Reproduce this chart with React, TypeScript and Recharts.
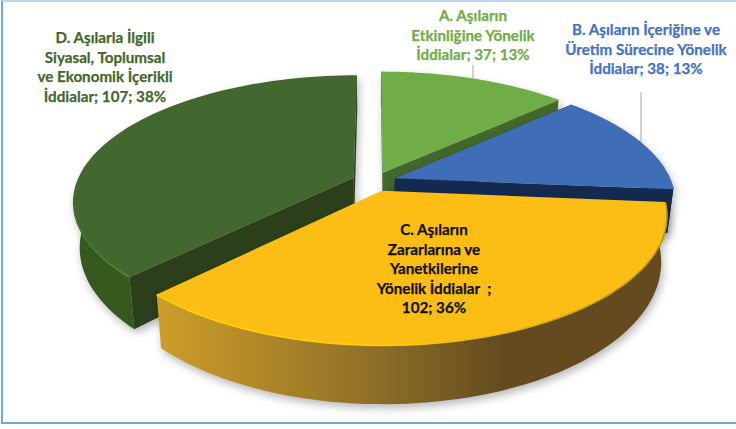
import { PieChart, Pie } from 'recharts';

// draw order is D, A, B, C so the front slice ends up on top
const categories = ['D', 'A', 'B', 'C'];
const values = [107, 37, 38, 102];
const labelLines = [
  ['D. Aşılarla İlgili', 'Siyasal, Toplumsal', 've Ekonomik İçerikli', 'İddialar; 107; 38%'],
  ['A. Aşıların', 'Etkinliğine Yönelik', 'İddialar; 37; 13%'],
  ['B. Aşıların İçeriğine ve', 'Üretim Sürecine Yönelik', 'İddialar; 38; 13%'],
  ['C. Aşıların', 'Zararlarına ve', 'Yanetkilerine', 'Yönelik İddialar  ;', '102; 36%'],
];

const chartData = categories.map((name, i) => ({ name, value: values[i] }));
const total = values.reduce((a, b) => a + b, 0);
// D ends at twelve o'clock, everything else runs clockwise from there
const startAngle = 90 + (360 * values[0]) / total;

const WIDTH = 736;
const HEIGHT = 429;
const CX = 374;
const CY = 181.5;
const RADIUS = 276;
const RADIUS_Y = 122;
const PERSPECTIVE = 0.186;
const EXPLODE = 0.08;
const DEPTH = 43;
const FOOT_SHRINK = 0.98;

// cut: the radial faces that can be seen from the front, 'none' when they face away
const sliceStyles: Record<string, any> = {
  A: { top: '#70AD47', cut: '#43682B', side: '#43682B', bevel: '#70AD47', text: '#70AD47', labelX: 473, labelY: 21, leader: [473, 65, 79] },
  B: { top: '#3F6EB6', cut: '#152A50', side: '#152A50', bevel: '#3F6EB6', text: '#4472C4', labelX: 646, labelY: 35, leader: [641, 92, 142] },
  C: { top: '#FCBE14', cut: 'none', side: 'url(#sideC)', bevel: 'url(#bevelC)', text: '#111111', labelX: 434, labelY: 235 },
  D: { top: '#43682F', cut: '#2A3F1A', side: 'url(#sideD)', bevel: 'url(#bevelD)', text: '#43682B', labelX: 105, labelY: 43 },
};

const project = (u: number, v: number) => {
  const w = 1 - PERSPECTIVE * v;
  return { x: CX + (RADIUS * u) / w, y: CY + (RADIUS_Y * v) / w, w };
};

const foot = (p: { x: number; y: number; w: number }) => ({
  x: CX + (p.x - CX) * FOOT_SHRINK,
  y: p.y + DEPTH / Math.pow(p.w, 1.4),
  w: p.w,
});

const toPath = (pts: { x: number; y: number }[], close = true) =>
  pts.map((p, i) => `${i ? 'L' : 'M'}${p.x.toFixed(1)},${p.y.toFixed(1)}`).join('') + (close ? 'Z' : '');

const rad = (deg: number) => (deg * Math.PI) / 180;

const Slice3D = (props: any) => {
  const { startAngle: a0, endAngle: a1, midAngle, name } = props;
  const style = sliceStyles[name];
  const ox = EXPLODE * Math.cos(rad(midAngle));
  const oy = -EXPLODE * Math.sin(rad(midAngle));

  const arc = [];
  for (let i = 0; i <= 72; i++) {
    const a = rad(a0 + ((a1 - a0) * i) / 72);
    arc.push(project(ox + Math.cos(a), oy - Math.sin(a)));
  }
  const apex = project(ox, oy);
  const first = arc[0];
  const last = arc[arc.length - 1];

  return (
    <g style={{ filter: 'drop-shadow(2px 4px 4px rgba(0,0,0,0.28))' }}>
      <path d={toPath([apex, first, foot(first), foot(apex)])} fill={style.cut} />
      <path d={toPath([apex, last, foot(last), foot(apex)])} fill={style.cut} />
      <path d={toPath([...arc, ...arc.map(foot).reverse()])} fill={style.side} />
      <path d={toPath([apex, ...arc])} fill={style.top} />
      <path d={toPath(arc, false)} fill="none" stroke={style.bevel} strokeWidth={1.5} />
    </g>
  );
};

const renderLabel = (props: any) => {
  const { name, index } = props;
  const style = sliceStyles[name];
  return (
    <g key={name}>
      {style.leader && (
        <line
          x1={style.leader[0]}
          x2={style.leader[0]}
          y1={style.leader[1]}
          y2={style.leader[2]}
          stroke="#A6A6A6"
          strokeWidth={1}
        />
      )}
      {labelLines[index].map((line, i) => (
        <text
          key={line}
          x={style.labelX}
          y={style.labelY + i * 19.6}
          textAnchor="middle"
          fontFamily="Lato, 'Noto Sans', sans-serif"
          fontWeight={700}
          fontSize={15.2}
          fill={style.text}
          stroke={style.text}
          strokeWidth={0.25}
          style={{ whiteSpace: 'pre' }}
        >
          {line}
        </text>
      ))}
    </g>
  );
};

export default function App() {
  return (
    <div style={{ position: 'absolute', left: 0, top: 0, width: WIDTH, height: HEIGHT, background: '#FFFFFF' }}>
      <div
        style={{
          position: 'absolute',
          left: 1,
          top: 0,
          width: WIDTH - 1,
          height: 424,
          boxSizing: 'border-box',
          borderLeft: '2px solid #6FA8DC',
          borderBottom: '2px solid #6FA8DC',
          borderTop: '2px solid #BDD7EE',
        }}
      />
      <div style={{ position: 'absolute', left: 0, top: 0 }}>
        <PieChart width={WIDTH} height={HEIGHT} margin={{ top: 0, right: 0, bottom: 0, left: 0 }}>
          <defs>
            <linearGradient id="sideC" x1="0" y1="0" x2="1" y2="0">
              <stop offset="0" stopColor="#CF9E28" />
              <stop offset="0.42" stopColor="#8F6F28" />
              <stop offset="0.68" stopColor="#634B1F" />
              <stop offset="1" stopColor="#634B1F" />
            </linearGradient>
            <linearGradient id="sideD" x1="0" y1="0" x2="1" y2="0">
              <stop offset="0" stopColor="#36591F" />
              <stop offset="1" stopColor="#33561F" />
            </linearGradient>
            <linearGradient id="bevelC" x1="0" y1="0" x2="1" y2="0">
              <stop offset="0" stopColor="#FFD800" />
              <stop offset="0.5" stopColor="#FFCC00" />
              <stop offset="1" stopColor="#B58E1C" />
            </linearGradient>
            <linearGradient id="bevelD" x1="0" y1="0" x2="0" y2="1">
              <stop offset="0" stopColor="#43682F" />
              <stop offset="0.6" stopColor="#43682F" />
              <stop offset="1" stopColor="#4F8A35" />
            </linearGradient>
          </defs>
          <Pie
            data={chartData}
            dataKey="value"
            nameKey="name"
            cx={CX}
            cy={CY}
            innerRadius={0}
            outerRadius={RADIUS}
            startAngle={startAngle}
            endAngle={startAngle - 360}
            paddingAngle={0}
            stroke="none"
            shape={Slice3D}
            label={renderLabel}
            labelLine={false}
            isAnimationActive={false}
          />
        </PieChart>
      </div>
    </div>
  );
}
